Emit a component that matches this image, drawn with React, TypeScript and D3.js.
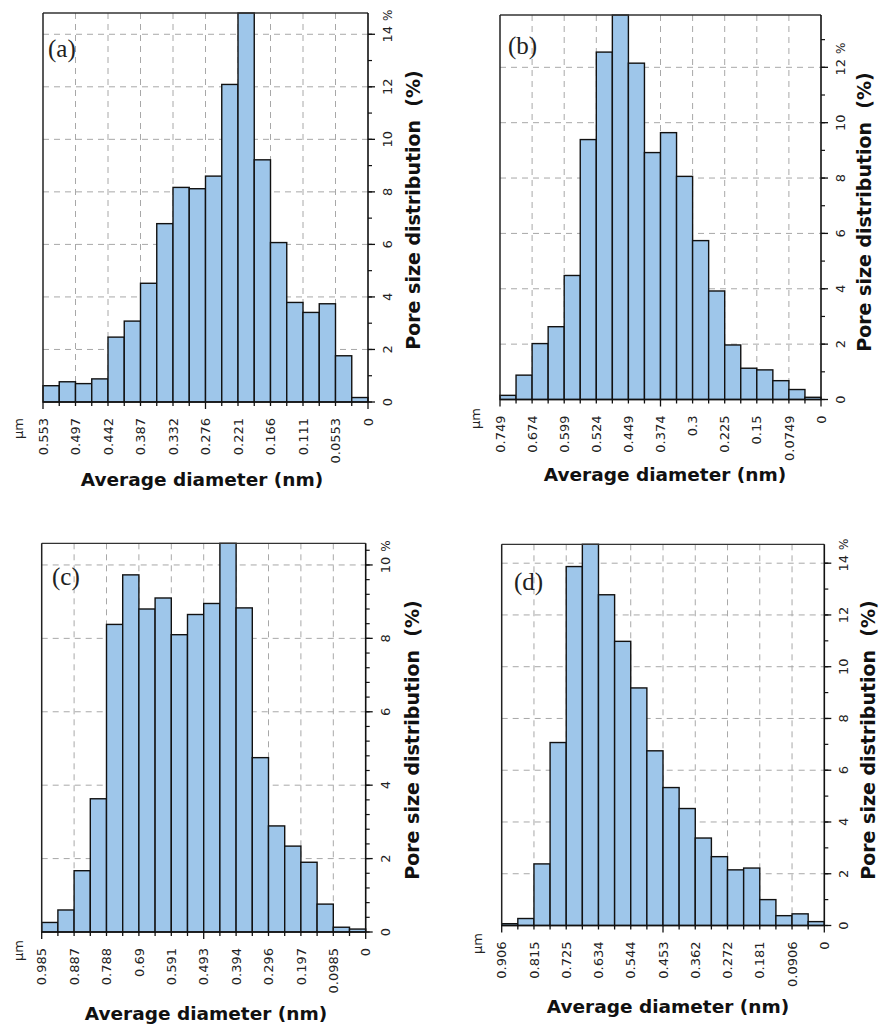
import React from "react";
import * as d3 from "d3";

// ---------- data ----------
const panelNames = ["(a)", "(b)", "(c)", "(d)"];

const diameterMaxA = 0.553;
const diameterMaxB = 0.749;
const diameterMaxC = 0.985;
const diameterMaxD = 0.906;

const valuesA = [0.62, 0.77, 0.7, 0.88, 2.47, 3.08, 4.52, 6.79, 8.17, 8.12, 8.6, 12.09, 14.81, 9.22, 6.07, 3.79, 3.41, 3.74, 1.76, 0.17];
const valuesB = [0.15, 0.88, 2.02, 2.63, 4.48, 9.39, 12.55, 13.89, 12.15, 8.92, 9.64, 8.06, 5.74, 3.92, 1.97, 1.13, 1.07, 0.68, 0.36, 0.08];
const valuesC = [0.26, 0.6, 1.67, 3.63, 8.38, 9.73, 8.8, 9.1, 8.1, 8.65, 8.95, 10.59, 8.83, 4.75, 2.89, 2.34, 1.9, 0.76, 0.13, 0.08];
const valuesD = [0.07, 0.27, 2.38, 7.07, 13.87, 14.73, 12.78, 10.98, 9.18, 6.75, 5.33, 4.52, 3.38, 2.66, 2.15, 2.22, 1.0, 0.38, 0.45, 0.15];

const xTicksA = ["0.553", "0.497", "0.442", "0.387", "0.332", "0.276", "0.221", "0.166", "0.111", "0.0553", "0"];
const xTicksB = ["0.749", "0.674", "0.599", "0.524", "0.449", "0.374", "0.3", "0.225", "0.15", "0.0749", "0"];
const xTicksC = ["0.985", "0.887", "0.788", "0.69", "0.591", "0.493", "0.394", "0.296", "0.197", "0.0985", "0"];
const xTicksD = ["0.906", "0.815", "0.725", "0.634", "0.544", "0.453", "0.362", "0.272", "0.181", "0.0906", "0"];

const yMaxA = 14.81;
const yMaxB = 13.89;
const yMaxC = 10.59;
const yMaxD = 14.73;

const yMinorStepA = 1;
const yMinorStepB = 1;
const yMinorStepC = 0.4;
const yMinorStepD = 1;

const xTitle = "Average diameter (nm)";
const yTitle = "Pore size distribution\u00a0\u00a0(%)";
const unitLabel = "\u00b5m";

// ---------- layout (positions / styles) ----------
const layouts = [
  { left: 43, top: 13, right: 368, bottom: 402, lblX: 48, lblY: 57, xtX: 202, xtY: 486, ytX: 420, ytY: 210, umX: 18, umY: 418 },
  { left: 500, top: 15, right: 821, bottom: 399.5, lblX: 508, lblY: 54, xtX: 665, xtY: 481, ytX: 871, ytY: 212, umX: 475, umY: 408 },
  { left: 41.7, top: 543.3, right: 365.7, bottom: 932, lblX: 52, lblY: 585, xtX: 206, xtY: 1020, ytX: 419, ytY: 740, umX: 18, umY: 940 },
  { left: 501.7, top: 544.3, right: 824.3, bottom: 925.5, lblX: 514, lblY: 590, xtX: 668, xtY: 1013, ytX: 875, ytY: 740, umX: 477, umY: 933 },
];

const panels = [
  { name: panelNames[0], dmax: diameterMaxA, values: valuesA, xTicks: xTicksA, yMax: yMaxA, minor: yMinorStepA },
  { name: panelNames[1], dmax: diameterMaxB, values: valuesB, xTicks: xTicksB, yMax: yMaxB, minor: yMinorStepB },
  { name: panelNames[2], dmax: diameterMaxC, values: valuesC, xTicks: xTicksC, yMax: yMaxC, minor: yMinorStepC },
  { name: panelNames[3], dmax: diameterMaxD, values: valuesD, xTicks: xTicksD, yMax: yMaxD, minor: yMinorStepD },
];

const BAR_FILL = "#9ec6ea";
const GRID = "#a8a8a8";
const SANS = "'DejaVu Sans', Verdana, sans-serif";

function Panel({ p, L }: { p: any; L: any }) {
  const n = p.values.length;
  const x = d3.scaleLinear().domain([p.dmax, 0]).range([L.left, L.right]);
  const y = d3.scaleLinear().domain([0, p.yMax]).range([L.bottom, L.top]);
  const binW = p.dmax / n;
  const edges = d3.range(n + 1).map((i) => p.dmax - i * binW);
  const nTicks = p.xTicks.length - 1;
  const tickVals = d3.range(nTicks + 1).map((k) => p.dmax - (k * p.dmax) / nTicks);
  const majors = d3.range(0, Math.floor(p.yMax / 2 + 1e-9) + 1).map((i) => i * 2);
  const minors = d3.range(0, Math.floor(p.yMax / p.minor + 1e-9) + 1).map((i) => +(i * p.minor).toFixed(4));
  const topMajor = majors[majors.length - 1];

  return (
    <g>
      {/* grid */}
      {majors.filter((v) => v > 0).map((v) => (
        <line key={"gh" + v} x1={L.left} x2={L.right} y1={y(v)} y2={y(v)} stroke={GRID} strokeWidth={1} strokeDasharray="6,5" />
      ))}
      {tickVals.slice(1, -1).map((v, i) => (
        <line key={"gv" + i} x1={x(v)} x2={x(v)} y1={L.top} y2={L.bottom} stroke={GRID} strokeWidth={1} strokeDasharray="6,5" />
      ))}
      {/* bars */}
      {p.values.map((v: number, i: number) => {
        const x0 = x(edges[i]);
        const x1 = x(edges[i + 1]);
        const yv = y(Math.min(v, p.yMax));
        return (
          <rect key={"b" + i} x={x0} y={yv} width={x1 - x0} height={L.bottom - yv} fill={BAR_FILL} stroke="#111" strokeWidth={1.4} />
        );
      })}
      {/* frame */}
      <line x1={L.left} x2={L.right} y1={L.top} y2={L.top} stroke="#333" strokeWidth={1.3} />
      <line x1={L.left} x2={L.left} y1={L.top} y2={L.bottom} stroke="#222" strokeWidth={1.5} />
      {/* bottom axis */}
      <line x1={L.left} x2={L.right} y1={L.bottom} y2={L.bottom} stroke="#111" strokeWidth={1.6} />
      {edges.map((e, i) => {
        const big = i === 0 || i === n || i === n / 2;
        return <line key={"xt" + i} x1={x(e)} x2={x(e)} y1={L.bottom} y2={L.bottom + (big ? 7 : 4)} stroke="#111" strokeWidth={1.3} />;
      })}
      {tickVals.map((v, k) => (
        <text key={"xl" + k} transform={`translate(${x(v)},${L.bottom + 16}) rotate(-90)`} textAnchor="end" dy="0.36em" fontFamily={SANS} fontSize={13} fill="#222">
          {p.xTicks[k]}
        </text>
      ))}
      <text transform={`translate(${L.umX},${L.umY}) rotate(-90)`} textAnchor="end" dy="0.36em" fontFamily={SANS} fontSize={13} fill="#222">
        {unitLabel}
      </text>
      {/* right axis */}
      <line x1={L.right} x2={L.right} y1={L.top} y2={L.bottom} stroke="#111" strokeWidth={1.6} />
      {minors.map((v) => (
        <line key={"ym" + v} x1={L.right} x2={L.right + 4} y1={y(v)} y2={y(v)} stroke="#111" strokeWidth={1.2} />
      ))}
      {majors.map((v) => (
        <g key={"yM" + v}>
          <line x1={L.right} x2={L.right + 7} y1={y(v)} y2={y(v)} stroke="#111" strokeWidth={1.3} />
          <text transform={`translate(${L.right + 19.5},${y(v)}) rotate(-90)`} textAnchor="middle" dy="0.36em" fontFamily={SANS} fontSize={13} fill="#222">
            {v}
          </text>
        </g>
      ))}
      <text transform={`translate(${L.right + 19.5},${y(topMajor) - 19}) rotate(-90)`} textAnchor="middle" dy="0.36em" fontFamily={SANS} fontSize={12} fill="#222">
        %
      </text>
      {/* titles */}
      <text x={L.xtX} y={L.xtY} textAnchor="middle" fontFamily={SANS} fontWeight="bold" fontSize={18.5} fill="#111">
        {xTitle}
      </text>
      <text transform={`translate(${L.ytX},${L.ytY}) rotate(-90)`} textAnchor="middle" fontFamily={SANS} fontWeight="bold" fontSize={19} fill="#111">
        {yTitle}
      </text>
      <text x={L.lblX} y={L.lblY} fontFamily="'Liberation Serif', 'Times New Roman', serif" fontSize={25} fill="#222">
        {p.name}
      </text>
    </g>
  );
}

export default function App() {
  return (
    <svg width={880} height={1025} viewBox="0 0 880 1025" style={{ position: "absolute", left: 0, top: 0, background: "#fff" }}>
      <rect x={0} y={0} width={880} height={1025} fill="#fff" />
      {panels.map((p, i) => (
        <Panel key={i} p={p} L={layouts[i]} />
      ))}
    </svg>
  );
}
